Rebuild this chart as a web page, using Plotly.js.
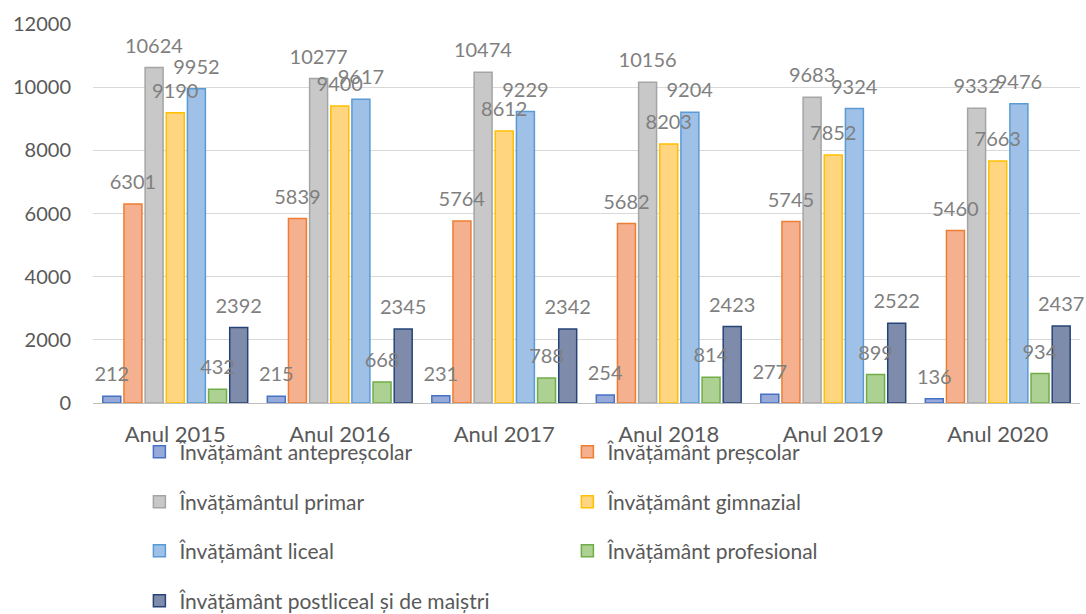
<!DOCTYPE html>
<html><head><meta charset="utf-8">
<script src="https://cdn.plot.ly/plotly-3.0.1.min.js"></script>
<style>html,body{margin:0;padding:0;background:#fff}#c{width:1086px;height:614px}</style>
</head><body><div id="c"></div>
<script>
const categories = ["Anul 2015","Anul 2016","Anul 2017","Anul 2018","Anul 2019","Anul 2020"];
const seriesNames = ["Învățământ antepreșcolar","Învățământ preșcolar","Învățământul primar","Învățământ gimnazial","Învățământ liceal","Învățământ profesional","Învățământ postliceal și de maiștri"];
const antepre = [212,215,231,254,277,136];
const prescolar = [6301,5839,5764,5682,5745,5460];
const primar = [10624,10277,10474,10156,9683,9332];
const gimnazial = [9190,9400,8612,8203,7852,7663];
const liceal = [9952,9617,9229,9204,9324,9476];
const profesional = [432,668,788,814,899,934];
const postliceal = [2392,2345,2342,2423,2522,2437];
const values = [antepre,prescolar,primar,gimnazial,liceal,profesional,postliceal];
const fills = ["#97a9d9","#f5b090","#c8c8c8","#ffd580","#9fc1e7","#acd192","#7f8bab"];
const lines = ["#4472c4","#ed7d31","#a5a5a5","#ffc000","#5b9bd5","#70ad47","#264478"];
const legendIds = ["legend","legend","legend2","legend2","legend3","legend3","legend4"];
const FONT = "Lato, 'Liberation Sans', sans-serif";
const LABEL_LIFT = 250;
const barTraces = values.map((v,i)=>({
  type:'bar', name: seriesNames[i], x: categories, y: v, legend: legendIds[i],
  offsetgroup:'g'+i,
  marker:{color:fills[i], line:{color:lines[i], width:1.5}},
  hoverinfo:'x+y'
}));
const labelTraces = values.map((v,i)=>({
  type:'bar', name: seriesNames[i], x: categories, y: v, base: LABEL_LIFT,
  offsetgroup:'g'+i, showlegend:false,
  text: v.map(String), textposition:'outside', cliponaxis:false, constraintext:'none',
  textfont:{family:FONT,size:20,color:'#7f7f7f'},
  marker:{color:'rgba(0,0,0,0)', line:{width:0}},
  hoverinfo:'skip'
}));
const rowY = [-0.1293,-0.2612,-0.3905,-0.5224];
function leg(y){
  return {orientation:'h', x:0.047, xanchor:'left', y:y, yanchor:'middle',
          entrywidth:383, entrywidthmode:'pixels', traceorder:'normal',
          bgcolor:'rgba(0,0,0,0)',
          font:{family:FONT,size:21,color:'#595959'}};
}
const layout = {
  width:1086, height:614,
  margin:{l:93,r:6,t:24,b:211,autoexpand:false},
  paper_bgcolor:'#fff', plot_bgcolor:'#fff',
  barmode:'group', bargap:0.1, bargroupgap:0.15,
  font:{family:FONT,size:18,color:'#595959'},
  xaxis:{showline:true, linecolor:'#bfbfbf', linewidth:1, ticks:'', showgrid:false,
         ticklabelstandoff:12,
         tickfont:{family:FONT,size:22,color:'#595959'}},
  yaxis:{range:[0,12000], dtick:2000, tickformat:'d', showgrid:true, gridcolor:'#d9d9d9', gridwidth:1,
         zeroline:false, showline:false, ticks:'', ticklabelstandoff:21,
         tickfont:{family:FONT,size:20,color:'#595959'}},
  showlegend:true,
  legend:leg(rowY[0]), legend2:leg(rowY[1]), legend3:leg(rowY[2]), legend4:leg(rowY[3])
};
Plotly.newPlot('c', barTraces.concat(labelTraces), layout, {staticPlot:true});
</script></body></html>
